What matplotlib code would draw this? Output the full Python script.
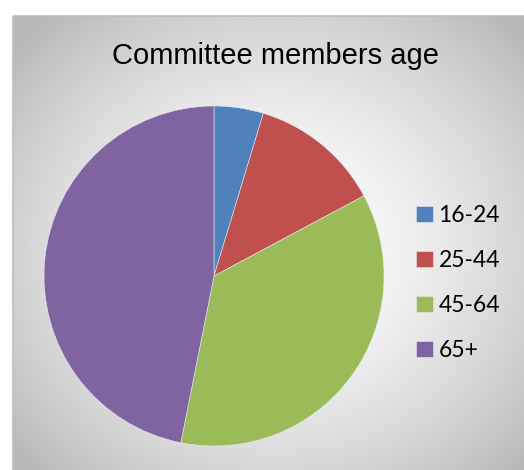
"""Pie chart of committee members by age group."""
import numpy as np
from matplotlib import pyplot as plt
from matplotlib.patches import Rectangle

AGE_GROUPS = ['16-24', '25-44', '45-64', '65+']
MEMBERS = [3, 8, 23, 30]
COLORS = ['#4F81BD', '#C0504D', '#9BBB59', '#8064A2']

W, H = 524, 470


def radial_background(fig):
    # grey-to-white radial fill behind the chart box
    bg = fig.add_axes([0, 0, 1, 1], zorder=0)
    bg.set_xlim(0, W)
    bg.set_ylim(H, 0)
    bg.axis('off')
    x0, y0 = 13, 16
    x1, y1 = W + 20, H + 20
    xs = np.linspace(x0, x1, 300)
    ys = np.linspace(y0, y1, 300)
    X, Y = np.meshgrid(xs, ys)
    cx, cy = 275, 250
    r = np.hypot((X - cx) / 330, (Y - cy) / 300)
    v = np.clip(1.0 - 0.26 * r ** 1.6, 0.72, 1.0)
    bg.imshow(v, cmap='gray', vmin=0, vmax=1, extent=(x0, x1, y1, y0),
              interpolation='bilinear', aspect='auto')
    bg.add_patch(Rectangle((x0, y0), x1 - x0, y1 - y0, fill=False,
                           edgecolor='#bdbdbd', linewidth=1.2))


def create_chart():
    fig = plt.figure(figsize=(W / 100, H / 100), dpi=100)
    fig.patch.set_facecolor('white')
    radial_background(fig)

    cx, cy, rad = 214, 276, 170
    ax = fig.add_axes([(cx - rad) / W, (H - cy - rad) / H,
                       2 * rad / W, 2 * rad / H], zorder=1)
    wedges, _ = ax.pie(MEMBERS, colors=COLORS, startangle=90,
                       counterclock=False,
                       wedgeprops={'edgecolor': '#e8e8f0', 'linewidth': 0.4})
    ax.set_xlim(-1, 1)
    ax.set_ylim(-1, 1)
    ax.set_aspect('equal')
    ax.axis('off')

    fig.text(275 / W, 1 - 56 / H, 'Committee members age',
             ha='center', va='center', fontsize=21,
             family='Liberation Sans', color='black')

    fig.legend(wedges, AGE_GROUPS, loc='center left',
               bbox_to_anchor=(395 / W, 1 - 283 / H), frameon=False,
               prop={'family': 'Lato', 'size': 16.5},
               handlelength=0.75, handleheight=0.75, handletextpad=0.25,
               labelspacing=1.05)

    fig.savefig('out.png', dpi=100)


if __name__ == '__main__':
    create_chart()
